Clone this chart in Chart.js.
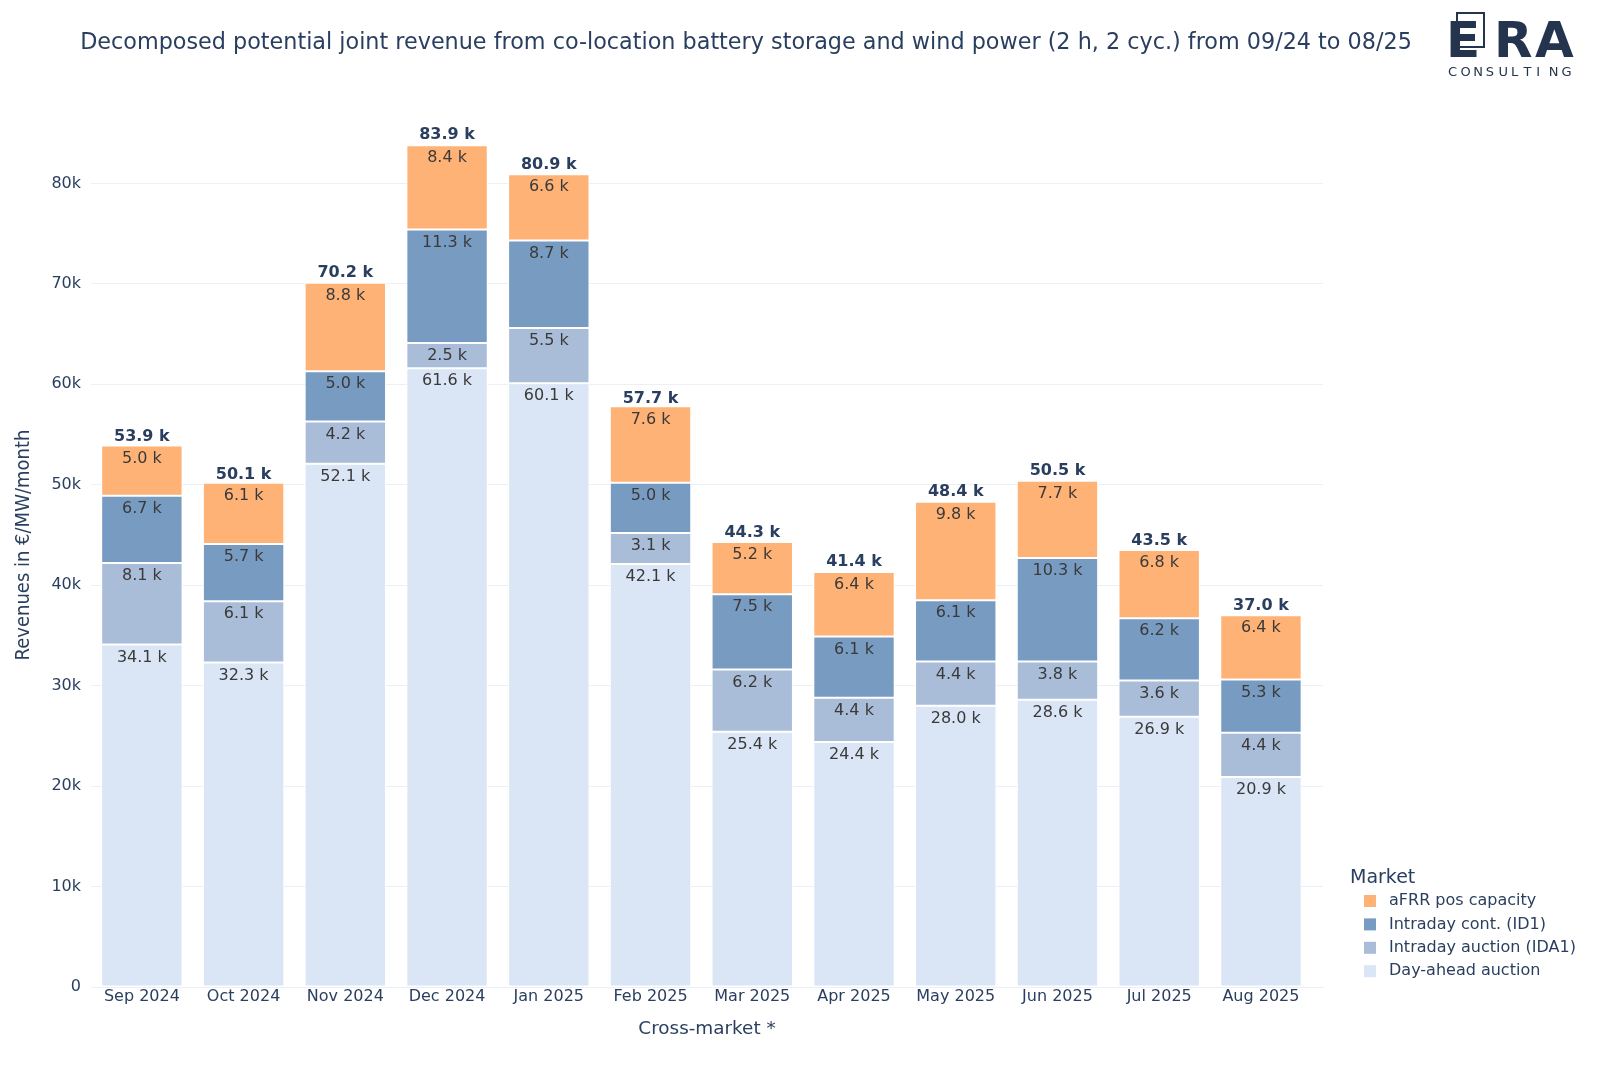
<!DOCTYPE html>
<html>
<head>
<meta charset="utf-8">
<script src="https://cdn.jsdelivr.net/npm/chart.js@4"></script>
<style>
  html, body { margin: 0; padding: 0; background: #fff; }
</style>
</head>
<body>
<canvas id="myChart" width="1600" height="1067"></canvas>
<script>
// values in k€/MW/month
const months = ['Sep 2024', 'Oct 2024', 'Nov 2024', 'Dec 2024', 'Jan 2025', 'Feb 2025',
                'Mar 2025', 'Apr 2025', 'May 2025', 'Jun 2025', 'Jul 2025', 'Aug 2025'];
const dayAhead = [34.1, 32.3, 52.1, 61.6, 60.1, 42.1, 25.4, 24.4, 28.0, 28.6, 26.9, 20.9];
const intradayAuction = [8.1, 6.1, 4.2, 2.5, 5.5, 3.1, 6.2, 4.4, 4.4, 3.8, 3.6, 4.4];
const intradayCont = [6.7, 5.7, 5.0, 11.3, 8.7, 5.0, 7.5, 6.1, 6.1, 10.3, 6.2, 5.3];
const afrrPos = [5.0, 6.1, 8.8, 8.4, 6.6, 7.6, 5.2, 6.4, 9.8, 7.7, 6.8, 6.4];
const totals = [53.9, 50.1, 70.2, 83.9, 80.9, 57.7, 44.3, 41.4, 48.4, 50.5, 43.5, 37.0];
const yTicks = [0, 10, 20, 30, 40, 50, 60, 70, 80];

const navy = '#2a3f5f';
const mainFont = "'DejaVu Sans', Verdana, sans-serif";

let ctx = document.getElementById('myChart').getContext('2d');

// month index as x so the plot area can run a bit past the last bar
const toPoints = arr => arr.map((v, i) => ({ x: i, y: v }));

// text inside each segment + bold total above the stack
const barLabels = {
    id: 'barLabels',
    afterDatasetsDraw(chart) {
        const c = chart.ctx;
        const yScale = chart.scales.y;
        c.save();
        c.textAlign = 'center';
        c.font = '16px ' + mainFont;
        c.fillStyle = '#3a3a3a';
        c.textBaseline = 'top';
        chart.data.datasets.forEach((ds, di) => {
            chart.getDatasetMeta(di).data.forEach((el, i) => {
                c.fillText(ds.data[i].y.toFixed(1) + ' k', el.x, el.y + 5);
            });
        });
        c.font = 'bold 16px ' + mainFont;
        c.fillStyle = navy;
        c.textBaseline = 'bottom';
        const meta = chart.getDatasetMeta(0);
        totals.forEach((t, i) => {
            c.fillText(t.toFixed(1) + ' k', meta.data[i].x, yScale.getPixelForValue(t) - 1);
        });
        c.restore();
    }
};

// title, legend and logo
const decorations = {
    id: 'decorations',
    afterDraw(chart) {
        const c = chart.ctx;
        c.save();
        // title
        c.fillStyle = navy;
        c.font = '22.3px ' + mainFont;
        c.textAlign = 'center';
        c.textBaseline = 'middle';
        c.fillText('Decomposed potential joint revenue from co-location battery storage and wind power (2 h, 2 cyc.) from 09/24 to 08/25', 746, 43);

        // legend (reverse order like the stack)
        c.textAlign = 'left';
        c.font = '19px ' + mainFont;
        c.fillText('Market', 1350, 878);
        c.font = '16px ' + mainFont;
        const ds = chart.data.datasets.slice().reverse();
        ds.forEach((d, i) => {
            const y = 901 + i * 23.4;
            c.fillStyle = d.backgroundColor;
            c.fillRect(1364, y - 6, 12, 12);
            c.fillStyle = navy;
            c.fillText(d.label, 1389, y);
        });

        // ERA consulting logo
        c.fillStyle = '#24344f';
        c.font = 'bold 50px ' + mainFont;
        c.textBaseline = 'alphabetic';
        c.fillText('E', 1446, 57);
        c.fillText('R', 1494, 57);
        c.fillText('A', 1535, 57);
        c.strokeStyle = '#24344f';
        c.lineWidth = 2;
        c.strokeRect(1457, 13, 27, 34);
        c.font = '13px ' + mainFont;
        c.textBaseline = 'middle';
        const word = 'CONSULTING';
        for (let k = 0; k < word.length; k++) {
            c.fillText(word[k], 1448 + k * 12.6, 73);
        }
        c.restore();
    }
};

let myChart = new Chart(ctx, {
    type: 'bar',
    data: {
        datasets: [
            { label: 'Day-ahead auction', data: toPoints(dayAhead), backgroundColor: '#dae6f6' },
            { label: 'Intraday auction (IDA1)', data: toPoints(intradayAuction), backgroundColor: '#aabdd8' },
            { label: 'Intraday cont. (ID1)', data: toPoints(intradayCont), backgroundColor: '#789bc2' },
            { label: 'aFRR pos capacity', data: toPoints(afrrPos), backgroundColor: '#ffb275' }
        ]
    },
    options: {
        responsive: false,
        animation: false,
        devicePixelRatio: 1,
        layout: { padding: { left: 0, top: 103, right: 277, bottom: 0 } },
        datasets: {
            bar: {
                barPercentage: 0.8,
                categoryPercentage: 1,
                borderColor: '#ffffff',
                borderWidth: 1,
                borderSkipped: false
            }
        },
        plugins: {
            legend: { display: false },
            tooltip: { enabled: false }
        },
        scales: {
            x: {
                type: 'linear',
                stacked: true,
                min: -0.5,
                max: 11.61,
                offset: false,
                grid: { display: false, drawTicks: false },
                border: { color: '#ebf0f8' },
                afterBuildTicks(scale) { scale.ticks = months.map((m, i) => ({ value: i })); },
                ticks: {
                    color: navy, font: { family: mainFont, size: 16 }, padding: 0,
                    autoSkip: false, maxRotation: 0,
                    callback: v => months[v]
                },
                title: {
                    display: true, text: 'Cross-market *', color: navy,
                    font: { family: mainFont, size: 18.4 }, padding: { top: 0, bottom: 27 }
                },
                afterFit(scale) { scale.height = 80; }
            },
            y: {
                stacked: true,
                min: 0,
                max: 88,
                grid: { color: '#ebf0f8', drawTicks: false },
                border: { display: false },
                afterBuildTicks(scale) { scale.ticks = yTicks.map(v => ({ value: v })); },
                ticks: {
                    color: navy, font: { family: mainFont, size: 16 }, padding: 10,
                    callback: v => v === 0 ? '0' : v + 'k'
                },
                title: {
                    display: true, text: 'Revenues in €/MW/month', color: navy,
                    font: { family: "'Liberation Sans Narrow', 'DejaVu Sans Condensed', sans-serif", size: 20 },
                    padding: { top: 12, bottom: 0 }
                },
                afterFit(scale) { scale.width = 91; }
            }
        }
    },
    plugins: [barLabels, decorations]
});
</script>
</body>
</html>
